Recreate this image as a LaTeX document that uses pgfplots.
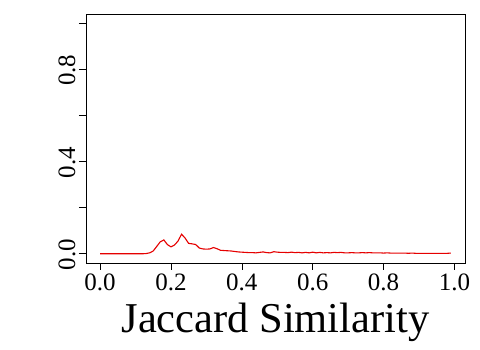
\documentclass[border=0pt]{standalone}
\usepackage{pgfplots}
\pgfplotsset{compat=1.18}
\usepackage{fontspec}
\setmainfont{Liberation Serif}
\begin{document}
\begin{tikzpicture}
\begin{axis}[
    name=ax,
    scale only axis,
    width=379pt, height=249pt,
    xmin=-0.0396, xmax=1.0296,
    ymin=-0.04, ymax=1.04,
    axis line style={line width=0.6pt},
    xtick={0,0.2,...,1.0},
    xticklabels={0.0,0.2,0.4,0.6,0.8,1.0},
    ytick={0,0.2,0.4,0.6,0.8,1.0},
    yticklabels={0.0,,0.4,,0.8,},
    xtick pos=bottom, ytick pos=left,
    tick align=outside,
    major tick length=7pt,
    tick style={line width=0.6pt, black},
    ticklabel style={font=\fontsize{25}{28}\selectfont},
    yticklabel style={rotate=90, anchor=south, xshift=-1pt},
    xlabel={Jaccard Similarity},
    xlabel style={font=\fontsize{42.5}{46}\selectfont, yshift=-6pt},
    /pgf/number format/assume math mode=true,
]
\addplot[red!90!black, line width=1.1pt] coordinates {
(0.00,0) (0.01,0) (0.02,0) (0.03,0) (0.04,0) (0.05,0) (0.06,0) (0.07,0)
(0.08,0) (0.09,0) (0.10,0) (0.11,0) (0.12,0) (0.13,0.001) (0.14,0.004)
(0.15,0.012) (0.16,0.032) (0.17,0.052) (0.18,0.060) (0.19,0.040)
(0.20,0.030) (0.21,0.038) (0.22,0.055) (0.23,0.085) (0.24,0.068)
(0.25,0.045) (0.26,0.043) (0.27,0.040) (0.28,0.025) (0.29,0.021)
(0.30,0.020) (0.31,0.021) (0.32,0.027) (0.33,0.022) (0.34,0.015)
(0.35,0.014) (0.36,0.013) (0.37,0.012) (0.38,0.010) (0.39,0.008)
(0.40,0.007) (0.41,0.006) (0.42,0.005) (0.43,0.005) (0.44,0.004)
(0.45,0.006) (0.46,0.008) (0.47,0.005) (0.48,0.004) (0.49,0.009)
(0.50,0.007) (0.51,0.006) (0.52,0.006) (0.53,0.005) (0.54,0.007)
(0.55,0.005) (0.56,0.006) (0.57,0.004) (0.58,0.006) (0.59,0.004)
(0.60,0.007) (0.61,0.004) (0.62,0.006) (0.63,0.004) (0.64,0.005)
(0.65,0.004) (0.66,0.006) (0.67,0.005) (0.68,0.006) (0.69,0.004)
(0.70,0.004) (0.71,0.005) (0.72,0.004) (0.73,0.004) (0.74,0.005)
(0.75,0.004) (0.76,0.005) (0.77,0.004) (0.78,0.004) (0.79,0.004)
(0.80,0.003) (0.81,0.004) (0.82,0.003) (0.83,0.003) (0.84,0.003)
(0.85,0.003) (0.86,0.003) (0.87,0.002) (0.88,0.003) (0.89,0.002)
(0.90,0.002) (0.91,0.002) (0.92,0.002) (0.93,0.002) (0.94,0.002)
(0.95,0.002) (0.96,0.002) (0.97,0.002) (0.98,0.002) (0.99,0.003)
};
\end{axis}
\pgfresetboundingbox
\useasboundingbox ([xshift=-86pt,yshift=-87pt]ax.south west) rectangle ([xshift=15pt,yshift=14pt]ax.north east);
\end{tikzpicture}
\end{document}
